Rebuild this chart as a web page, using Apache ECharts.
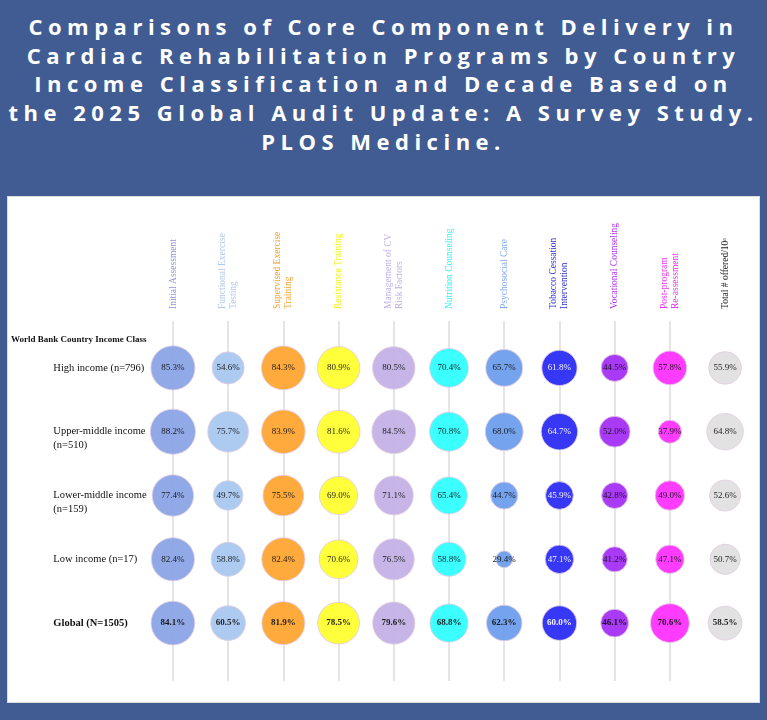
<!DOCTYPE html>
<html>
<head>
<meta charset="utf-8">
<script src="https://cdn.jsdelivr.net/npm/echarts@6/dist/echarts.min.js"></script>
<style>
    html, body {margin:0;padding:0;width:767px;height:720px;background:#405c93;overflow:hidden;}
    .page-title {position:absolute;left:0;top:12px;width:767px;text-align:center;color:#fff;
        font-family:'Open Sans',sans-serif;font-weight:bold;font-size:22px;line-height:28.7px;letter-spacing:5.5px;}
    #chart {position:absolute;left:7px;top:196px;width:753px;height:507px;background:#fff;border:1px solid #dcdcdc;box-sizing:border-box;}
</style>
</head>
<body>
<div class="page-title">Comparisons of Core Component Delivery in<br>Cardiac Rehabilitation Programs by Country<br>Income Classification and Decade Based on<br>the 2025 Global Audit Update: A Survey Study.<br>PLOS Medicine.</div>
<div id="chart"></div>
<script>
    // core components (columns)
    var components = ['Initial Assessment', 'Functional Exercise\nTesting', 'Supervised Exercise\nTraining',
        'Resistance Training', 'Management of CV\nRisk Factors', 'Nutrition Counseling', 'Psychosocial Care',
        'Tobacco Cessation\nIntervention', 'Vocational Counseling', 'Post-program\nRe-assessment', 'Total # offered/10ᵃ'];
    // income classes (rows)
    var incomeClasses = ['High income (n=796)', 'Upper-middle income\n(n=510)', 'Lower-middle income\n(n=159)',
        'Low income (n=17)', 'Global (N=1505)'];

    // % of programs delivering each component
    var highIncome  = [85.3, 54.6, 84.3, 80.9, 80.5, 70.4, 65.7, 61.8, 44.5, 57.8, 55.9];
    var upperMiddle = [88.2, 75.7, 83.9, 81.6, 84.5, 70.8, 68.0, 64.7, 52.0, 37.9, 64.8];
    var lowerMiddle = [77.4, 49.7, 75.5, 69.0, 71.1, 65.4, 44.7, 45.9, 42.8, 49.0, 52.6];
    var lowIncome   = [82.4, 58.8, 82.4, 70.6, 76.5, 58.8, 29.4, 47.1, 41.2, 47.1, 50.7];
    var globalAll   = [84.1, 60.5, 81.9, 78.5, 79.6, 68.8, 62.3, 60.0, 46.1, 70.6, 58.5];

    var rowValues = [highIncome, upperMiddle, lowerMiddle, lowIncome, globalAll];

    var bubbleColors = ['#8aa4e6', '#a8c8f0', '#ffa530', '#ffff30', '#c4b0e6', '#30ffff',
        '#6c9ded', '#2a2af5', '#a42ef5', '#ff30ff', '#e0e0e0'];
    var headerColors = ['#8f92d6', '#aec8f0', '#f2a030', '#f0f020', '#c0b0e8', '#30f0f0',
        '#80a8f0', '#3030d0', '#b030f0', '#f030f0', '#222'];

    var serif = 'Liberation Serif';
    var chart = echarts.init(document.getElementById('chart'));

    var series = components.map(function (name, j) {
        return {
            type: 'scatter',
            name: name,
            xAxisIndex: 1,
            yAxisIndex: 1,
            symbolSize: function (v) { return Math.sqrt(29.8 * Math.max(v[2] - 20, 1)); },
            itemStyle: {color: bubbleColors[j], opacity: 0.94, borderColor: 'rgba(225,205,225,0.9)', borderWidth: 1},
            label: {
                show: true,
                position: 'inside',
                fontFamily: serif,
                fontSize: 9,
                color: j === 7 ? '#fff' : '#111',
                formatter: function (p) { return p.value[2].toFixed(1) + '%'; }
            },
            data: rowValues.map(function (row, i) {
                var item = {value: [j, i, row[j]]};
                if (i === rowValues.length - 1) item.label = {fontWeight: 'bold'};
                return item;
            })
        };
    });

    var option = {
        animation: false,
        title: {
            text: 'World Bank Country Income Class',
            left: 3, top: 138, padding: 0,
            textStyle: {fontFamily: serif, fontSize: 9, fontWeight: 'bold', color: '#111'}
        },
        grid: [
            {left: 165, right: 34, top: 124, bottom: 21},
            {left: 137.3, right: 6.3, top: 139, bottom: 47}
        ],
        xAxis: [{
            gridIndex: 0,
            type: 'category',
            position: 'top',
            boundaryGap: false,
            data: components,
            axisLine: {show: false},
            axisTick: {show: false},
            axisLabel: {
                interval: 0,
                rotate: 90,
                margin: 12,
                fontFamily: serif,
                fontSize: 9.5,
                lineHeight: 11,
                color: function (v, idx) { return headerColors[idx]; }
            },
            splitLine: {
                show: true,
                interval: function (idx) { return idx < components.length - 1; },
                lineStyle: {color: '#dddddd', width: 1.5}
            }
        }, {
            gridIndex: 1,
            type: 'category',
            data: components,
            show: false
        }],
        yAxis: [{
            gridIndex: 0,
            type: 'value',
            min: 0, max: 1,
            show: false
        }, {
            gridIndex: 1,
            type: 'category',
            inverse: true,
            data: incomeClasses,
            axisLine: {show: false},
            axisTick: {show: false},
            splitLine: {show: false},
            axisLabel: {
                align: 'left',
                margin: 92,
                fontFamily: serif,
                fontSize: 10.5,
                color: '#111',
                formatter: function (v, idx) {
                    if (idx === incomeClasses.length - 1) return '{g|' + v + '}';
                    if (v.indexOf('\n') >= 0) return '{m|' + v + '}';
                    return v;
                },
                rich: {
                    g: {fontFamily: serif, fontSize: 10.5, fontWeight: 'bold', color: '#111'},
                    m: {fontFamily: serif, fontSize: 10.5, lineHeight: 14, color: '#111', padding: [13, 0, 0, 0]}
                }
            }
        }],
        series: series
    };

    chart.setOption(option);
    window.onresize = function () {
        chart.resize();
    };
</script>
</body>
</html>
